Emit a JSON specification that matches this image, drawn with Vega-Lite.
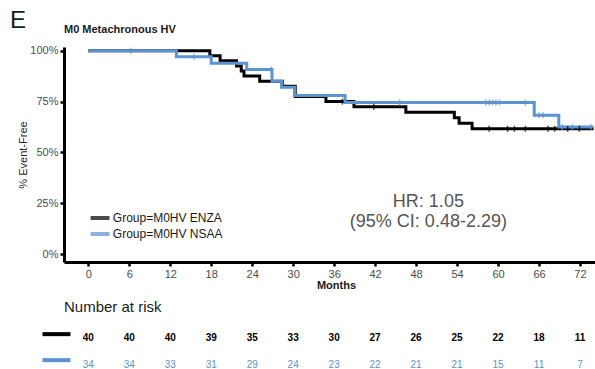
{
  "$schema": "https://vega.github.io/schema/vega-lite/v6.json",
  "autosize": {"type": "none"},
  "padding": {"left": 64, "top": 47, "right": 531, "bottom": 322},
  "background": "white",
  "bounds": "flush",
  "spacing": 74.65,
  "config": {"font": "Liberation Sans", "view": {"stroke": null}, "legend": {"rowPadding": 0}},
  "title": {"text": "E", "anchor": "start", "frame": "group", "fontSize": 24, "fontWeight": "normal", "color": "#1a1a1a", "dx": -54, "baseline": "alphabetic", "offset": -28},
  "resolve": {"scale": {"color": "independent"}, "legend": {"color": "independent"}},
  "datasets": {
    "curves": [
      {"group": "Group=M0HV ENZA", "month": 0, "surv": 100},
      {"group": "Group=M0HV ENZA", "month": 17.8, "surv": 97.5},
      {"group": "Group=M0HV ENZA", "month": 19.3, "surv": 95},
      {"group": "Group=M0HV ENZA", "month": 21.7, "surv": 92.5},
      {"group": "Group=M0HV ENZA", "month": 22.4, "surv": 90},
      {"group": "Group=M0HV ENZA", "month": 22.8, "surv": 87.5},
      {"group": "Group=M0HV ENZA", "month": 25.1, "surv": 85},
      {"group": "Group=M0HV ENZA", "month": 28.4, "surv": 82.5},
      {"group": "Group=M0HV ENZA", "month": 30.3, "surv": 77.5},
      {"group": "Group=M0HV ENZA", "month": 34.8, "surv": 75},
      {"group": "Group=M0HV ENZA", "month": 38.9, "surv": 72.4},
      {"group": "Group=M0HV ENZA", "month": 46.5, "surv": 69.7},
      {"group": "Group=M0HV ENZA", "month": 53.6, "surv": 67.0},
      {"group": "Group=M0HV ENZA", "month": 54.3, "surv": 64.3},
      {"group": "Group=M0HV ENZA", "month": 56.2, "surv": 61.6},
      {"group": "Group=M0HV ENZA", "month": 74.0, "surv": 61.6},
      {"group": "Group=M0HV NSAA", "month": 0, "surv": 100},
      {"group": "Group=M0HV NSAA", "month": 12.9, "surv": 97.0},
      {"group": "Group=M0HV NSAA", "month": 18.0, "surv": 93.8},
      {"group": "Group=M0HV NSAA", "month": 23.2, "surv": 90.7},
      {"group": "Group=M0HV NSAA", "month": 26.9, "surv": 85.0},
      {"group": "Group=M0HV NSAA", "month": 28.3, "surv": 82.0},
      {"group": "Group=M0HV NSAA", "month": 30.2, "surv": 78.0},
      {"group": "Group=M0HV NSAA", "month": 37.6, "surv": 74.5},
      {"group": "Group=M0HV NSAA", "month": 65.3, "surv": 68.3},
      {"group": "Group=M0HV NSAA", "month": 68.9, "surv": 62.5},
      {"group": "Group=M0HV NSAA", "month": 74.0, "surv": 62.5}
    ],
    "censors": [
      {"group": "Group=M0HV ENZA", "month": 37.2, "surv": 75},
      {"group": "Group=M0HV ENZA", "month": 41.8, "surv": 72.4},
      {"group": "Group=M0HV ENZA", "month": 58.7, "surv": 61.6},
      {"group": "Group=M0HV ENZA", "month": 61.4, "surv": 61.6},
      {"group": "Group=M0HV ENZA", "month": 62.4, "surv": 61.6},
      {"group": "Group=M0HV ENZA", "month": 64.0, "surv": 61.6},
      {"group": "Group=M0HV ENZA", "month": 67.3, "surv": 61.6},
      {"group": "Group=M0HV ENZA", "month": 68.3, "surv": 61.6},
      {"group": "Group=M0HV ENZA", "month": 70.2, "surv": 61.6},
      {"group": "Group=M0HV ENZA", "month": 71.9, "surv": 61.6},
      {"group": "Group=M0HV NSAA", "month": 6.2, "surv": 100},
      {"group": "Group=M0HV NSAA", "month": 15.5, "surv": 97.0},
      {"group": "Group=M0HV NSAA", "month": 26.8, "surv": 90.7},
      {"group": "Group=M0HV NSAA", "month": 45.6, "surv": 74.5},
      {"group": "Group=M0HV NSAA", "month": 58.2, "surv": 74.5},
      {"group": "Group=M0HV NSAA", "month": 58.7, "surv": 74.5},
      {"group": "Group=M0HV NSAA", "month": 59.2, "surv": 74.5},
      {"group": "Group=M0HV NSAA", "month": 59.7, "surv": 74.5},
      {"group": "Group=M0HV NSAA", "month": 60.2, "surv": 74.5},
      {"group": "Group=M0HV NSAA", "month": 64.0, "surv": 74.5},
      {"group": "Group=M0HV NSAA", "month": 66.0, "surv": 68.3},
      {"group": "Group=M0HV NSAA", "month": 66.6, "surv": 68.3},
      {"group": "Group=M0HV NSAA", "month": 69.4, "surv": 62.5},
      {"group": "Group=M0HV NSAA", "month": 70.9, "surv": 62.5},
      {"group": "Group=M0HV NSAA", "month": 73.6, "surv": 62.5}
    ],
    "hr": [
      {"label": "HR: 1.05\n(95% CI: 0.48-2.29)", "month": 49.8, "pct": 25.5}
    ],
    "risk": [
      {"group": "Group=M0HV ENZA", "month": 0, "n": 40},
      {"group": "Group=M0HV ENZA", "month": 6, "n": 40},
      {"group": "Group=M0HV ENZA", "month": 12, "n": 40},
      {"group": "Group=M0HV ENZA", "month": 18, "n": 39},
      {"group": "Group=M0HV ENZA", "month": 24, "n": 35},
      {"group": "Group=M0HV ENZA", "month": 30, "n": 33},
      {"group": "Group=M0HV ENZA", "month": 36, "n": 30},
      {"group": "Group=M0HV ENZA", "month": 42, "n": 27},
      {"group": "Group=M0HV ENZA", "month": 48, "n": 26},
      {"group": "Group=M0HV ENZA", "month": 54, "n": 25},
      {"group": "Group=M0HV ENZA", "month": 60, "n": 22},
      {"group": "Group=M0HV ENZA", "month": 66, "n": 18},
      {"group": "Group=M0HV ENZA", "month": 72, "n": 11},
      {"group": "Group=M0HV NSAA", "month": 0, "n": 34},
      {"group": "Group=M0HV NSAA", "month": 6, "n": 34},
      {"group": "Group=M0HV NSAA", "month": 12, "n": 33},
      {"group": "Group=M0HV NSAA", "month": 18, "n": 31},
      {"group": "Group=M0HV NSAA", "month": 24, "n": 29},
      {"group": "Group=M0HV NSAA", "month": 30, "n": 24},
      {"group": "Group=M0HV NSAA", "month": 36, "n": 23},
      {"group": "Group=M0HV NSAA", "month": 42, "n": 22},
      {"group": "Group=M0HV NSAA", "month": 48, "n": 21},
      {"group": "Group=M0HV NSAA", "month": 54, "n": 21},
      {"group": "Group=M0HV NSAA", "month": 60, "n": 15},
      {"group": "Group=M0HV NSAA", "month": 66, "n": 11},
      {"group": "Group=M0HV NSAA", "month": 72, "n": 7}
    ]
  },
  "vconcat": [
    {
      "width": 531,
      "height": 215,
      "title": {"text": "M0 Metachronous HV", "anchor": "start", "frame": "group", "fontSize": 11, "fontWeight": "bold", "color": "#1a1a1a", "baseline": "alphabetic", "offset": 0.5},
      "layer": [
        {
          "data": {"name": "curves"},
          "mark": {"type": "line", "interpolate": "step-after", "strokeWidth": 3},
          "encoding": {
            "x": {"field": "month", "type": "quantitative",
                  "scale": {"domain": [-3.56, 74.2], "nice": false, "zero": false},
                  "axis": {"values": [0, 6, 12, 18, 24, 30, 36, 42, 48, 54, 60, 66, 72], "title": "Months", "titleFontSize": 11, "titleFontWeight": "bold", "titleColor": "#1a1a1a", "titleX": 272, "titlePadding": 0, "labelFontSize": 11, "labelColor": "#4d4d4d", "labelPadding": 2, "labelFlush": false, "tickSize": 4, "tickWidth": 2.5, "tickColor": "black", "domainColor": "black", "domainWidth": 3, "grid": false}},
            "y": {"field": "surv", "type": "quantitative",
                  "scale": {"domain": [-3.9, 101.8], "nice": false, "zero": false},
                  "axis": {"values": [0, 25, 50, 75, 100], "labelExpr": "datum.value + '%'", "title": "% Event-Free", "titleFontSize": 11, "titleFontWeight": "normal", "titleColor": "#262626", "titlePadding": 2, "minExtent": 34, "maxExtent": 34, "labelFontSize": 11, "labelColor": "#4d4d4d", "labelPadding": 2, "tickSize": 4, "tickWidth": 2.5, "tickColor": "black", "domainColor": "black", "domainWidth": 3, "grid": false}},
            "color": {"field": "group", "type": "nominal",
                      "scale": {"domain": ["Group=M0HV ENZA", "Group=M0HV NSAA"], "range": ["#000000", "#5B93D3"]},
                      "legend": {"title": null, "orient": "none", "legendX": 24.3, "legendY": 164, "symbolType": "M-1,0H3", "symbolSize": 90, "symbolStrokeWidth": 4, "labelFontSize": 12, "labelColor": "#1a1a1a", "labelOffset": 10.5, "rowPadding": 0, "padding": 0}}
          }
        },
        {
          "data": {"name": "censors"},
          "mark": {"type": "tick", "orient": "vertical", "size": 6, "thickness": 1.5},
          "encoding": {
            "x": {"field": "month", "type": "quantitative"},
            "y": {"field": "surv", "type": "quantitative"},
            "color": {"field": "group", "type": "nominal"}
          }
        },
        {
          "data": {"name": "hr"},
          "mark": {"type": "text", "fontSize": 18, "color": "#555555", "lineBreak": "\n", "lineHeight": 20, "baseline": "middle", "align": "center"},
          "encoding": {
            "x": {"field": "month", "type": "quantitative"},
            "y": {"field": "pct", "type": "quantitative"},
            "text": {"field": "label", "type": "nominal"}
          }
        }
      ]
    },
    {
      "width": 531,
      "height": 30,
      "title": {"text": "Number at risk", "anchor": "start", "frame": "group", "fontSize": 15, "fontWeight": "normal", "color": "#1a1a1a", "baseline": "alphabetic", "offset": 4.5},
      "data": {"name": "risk"},
      "encoding": {
        "x": {"field": "month", "type": "quantitative", "scale": {"domain": [-3.56, 74.2], "nice": false, "zero": false}, "axis": null},
        "y": {"field": "group", "type": "nominal",
              "scale": {"type": "point", "domain": ["Group=M0HV ENZA", "Group=M0HV NSAA"], "padding": 0.0618},
              "axis": {"title": null, "labels": false, "domain": false, "ticks": true, "tickSize": 28, "tickWidth": 4, "tickCap": "butt", "tickColor": {"condition": {"test": "datum.value === 'Group=M0HV ENZA'", "value": "#000000"}, "value": "#5B93D3"}, "tickOffset": -5, "offset": -6, "grid": false}},
        "text": {"field": "n", "type": "quantitative"}
      },
      "layer": [
        {"transform": [{"filter": "datum.group === 'Group=M0HV ENZA'"}], "mark": {"type": "text", "fontSize": 10, "fontWeight": "bold", "color": "#000000"}},
        {"transform": [{"filter": "datum.group === 'Group=M0HV NSAA'"}], "mark": {"type": "text", "fontSize": 10, "color": "#5B93D3"}}
      ]
    }
  ]
}
